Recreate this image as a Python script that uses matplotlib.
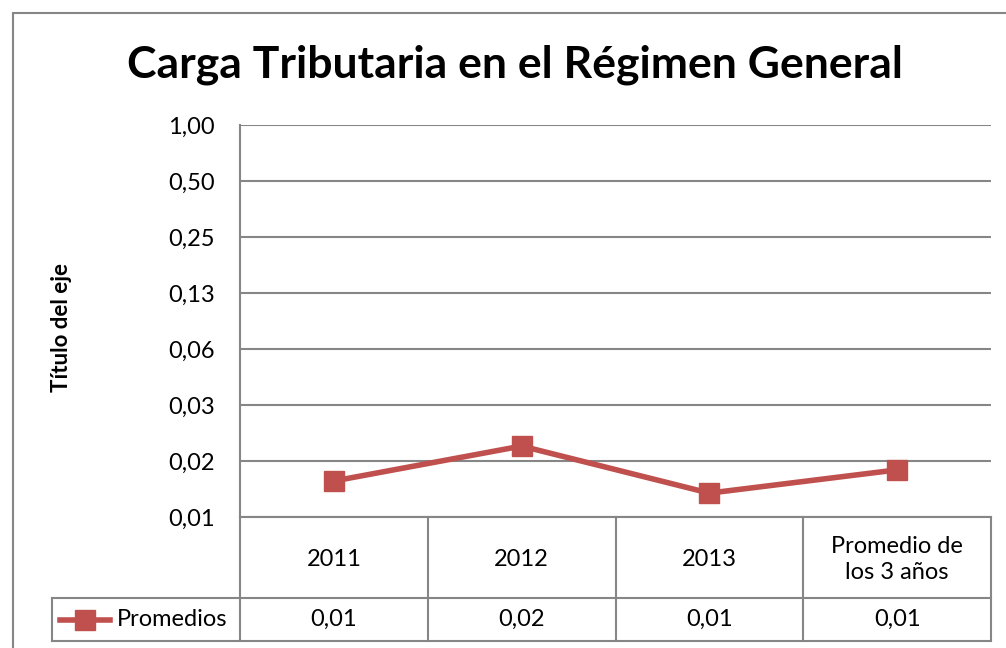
import matplotlib
matplotlib.use("Agg")
import matplotlib.pyplot as plt
from matplotlib.ticker import FixedLocator, FuncFormatter
from matplotlib.lines import Line2D
from matplotlib.patches import Rectangle
from decimal import Decimal, ROUND_HALF_UP

plt.rcParams['font.family'] = ['Lato', 'DejaVu Sans']

# data (log2 axis)
categorias = ["2011", "2012", "2013", "Promedio de\nlos 3 años"]
promedios = [0.0122, 0.0188, 0.0105, 0.0140]
etiquetas_tabla = ["0,01", "0,02", "0,01", "0,01"]
ticks_y = [2 ** -7, 2 ** -6, 2 ** -5, 2 ** -4, 2 ** -3, 2 ** -2, 2 ** -1, 1.0]
serie = "Promedios"
titulo = "Carga Tributaria en el Régimen General"
titulo_eje = "Título del eje"

W, H = 1006, 648
fig = plt.figure(figsize=(W / 100, H / 100), dpi=100)


# pixel helpers
def fx(px):
    return px / W


def fy(py):
    return 1 - py / H


def fmt(v, p):
    # Excel style rounding (0.125 -> 0,13)
    d = Decimal(str(float(v))).quantize(Decimal("0.01"), rounding=ROUND_HALF_UP)
    return str(d).replace(".", ",")


left, right, top, bottom = 240, 991, 125, 517
ax = fig.add_axes([fx(left), fy(bottom), fx(right - left), fy(top) - fy(bottom)])

rojo = "#C0504D"
gris = "#868686"

x = range(len(categorias))
ax.plot(x, promedios, color=rojo, lw=4, marker="s", ms=14, mec=rojo, mfc=rojo)
ax.set_yscale("log", base=2)
ax.set_ylim(ticks_y[0], ticks_y[-1])
ax.set_xlim(-0.5, len(categorias) - 0.5)
ax.yaxis.set_major_locator(FixedLocator(ticks_y))
ax.yaxis.set_minor_locator(FixedLocator([]))
ax.yaxis.set_major_formatter(FuncFormatter(fmt))
ax.tick_params(axis="y", length=0, pad=18, labelsize=17)
ax.set_xticks([])
ax.grid(axis="y", color=gris, lw=1.5)
for s in ["top", "right"]:
    ax.spines[s].set_visible(False)
for s in ["left", "bottom"]:
    ax.spines[s].set_color(gris)
    ax.spines[s].set_linewidth(1.5)

# data table below the plot
row1, row2 = 598, 641
colw = (right - left) / len(categorias)
lines = []
for i in range(len(categorias) + 1):
    xc = left + i * colw
    lines.append(([xc, xc], [bottom, row2]))
lines.append(([52, right], [row1, row1]))
lines.append(([52, right], [row2, row2]))
lines.append(([52, 52], [row1, row2]))
for xs, ys in lines:
    fig.add_artist(Line2D([fx(v) for v in xs], [fy(v) for v in ys], color=gris, lw=1.5))

for i, (c, e) in enumerate(zip(categorias, etiquetas_tabla)):
    xc = left + (i + 0.5) * colw
    fig.text(fx(xc), fy((bottom + row1) / 2 + 2), c, ha="center", va="center",
             fontsize=17, linespacing=1.25)
    fig.text(fx(xc), fy((row1 + row2) / 2), e, ha="center", va="center", fontsize=17)

# legend key in the table
ky = (row1 + row2) / 2
fig.add_artist(Line2D([fx(60), fx(110)], [fy(ky), fy(ky)], color=rojo, lw=4))
fig.add_artist(Line2D([fx(85)], [fy(ky)], color=rojo, marker="s", ms=14, lw=0))
fig.text(fx(117), fy(ky), serie, ha="left", va="center", fontsize=17)

fig.text(fx(515), fy(65), titulo, ha="center", va="center", fontsize=32, fontweight="bold")
fig.text(fx(62), fy(327), titulo_eje, ha="center", va="center", fontsize=16,
         fontweight="bold", rotation=90)

# chart border
fig.add_artist(Rectangle((fx(13), fy(700)), fx(1100), fy(13) - fy(700), fill=False,
                         ec=gris, lw=1.5))

fig.savefig("out.png", dpi=100)
